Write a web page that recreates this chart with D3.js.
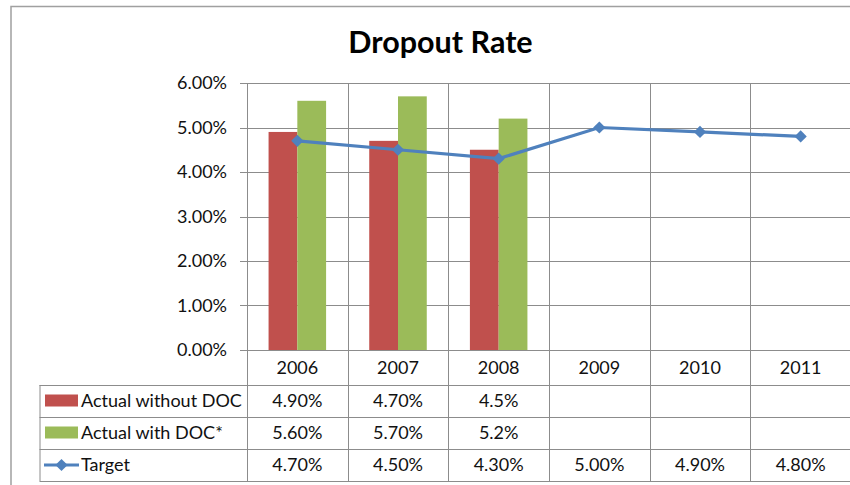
<!DOCTYPE html>
<html>
<head>
<meta charset="utf-8">
<script src="https://cdn.jsdelivr.net/npm/d3@7"></script>
<style>
  body { margin: 0; background: #fff; }
  svg { display: block; font-family: Lato, "Open Sans", sans-serif; }
</style>
</head>
<body>
<svg id="chart" width="850" height="485"></svg>
<script>
// chart values, as shown in the data table
const years = ['2006', '2007', '2008', '2009', '2010', '2011'];
const withoutDoc = ['4.90%', '4.70%', '4.5%'];
const withDoc = ['5.60%', '5.70%', '5.2%'];
const target = ['4.70%', '4.50%', '4.30%', '5.00%', '4.90%', '4.80%'];
const yTicks = [0, 0.01, 0.02, 0.03, 0.04, 0.05, 0.06];

const series = [
    { name: 'Actual without DOC', values: withoutDoc, color: '#C0504D', type: 'bar' },
    { name: 'Actual with DOC*', values: withDoc, color: '#9BBB59', type: 'bar' },
    { name: 'Target', values: target, color: '#4F81BD', type: 'line' }
];

const pct = s => parseFloat(s) / 100;

const svg = d3.select('#chart');
const gridColor = '#8c8c8c';
const fontSize = 18;

// plot area
const plotLeft = 247, plotRight = 851, plotTop = 83, plotBottom = 350;
const tableLeft = 39.5, rowH = 32, headerH = 35;

const x = d3.scaleBand().domain(years).range([plotLeft, plotRight]);
const y = d3.scaleLinear().domain([0, 0.06]).range([plotBottom, plotTop]);

const bw = x.bandwidth() / 3.5; // excel gap width 150%
const barSeries = series.filter(s => s.type === 'bar');
const x1 = d3.scaleBand().domain(barSeries.map(s => s.name)).range([0, bw * 2]);

// outer chart border
svg.append('path')
    .attr('d', `M11,490 V6.5 H860`)
    .attr('fill', 'none')
    .attr('stroke', '#a0a0a0')
    .attr('stroke-width', 1.5);

// title
svg.append('text')
    .attr('x', 440.5)
    .attr('y', 53)
    .attr('text-anchor', 'middle')
    .attr('font-weight', 'bold')
    .attr('font-size', 30.5)
    .text('Dropout Rate');

// horizontal gridlines + ticks
svg.append('g').selectAll('line')
    .data(yTicks)
    .join('line')
    .attr('x1', plotLeft - 7)
    .attr('x2', plotRight)
    .attr('y1', d => Math.round(y(d)) + 0.5)
    .attr('y2', d => Math.round(y(d)) + 0.5)
    .attr('stroke', gridColor);

svg.append('g').selectAll('text')
    .data(yTicks)
    .join('text')
    .attr('x', 227)
    .attr('y', d => y(d))
    .attr('dy', '0.35em')
    .attr('text-anchor', 'end')
    .attr('font-size', fontSize)
    .attr('fill', '#111')
    .text(d => d3.format('.2%')(d));

// vertical category lines running through the table
const tableBottom = plotBottom + headerH + rowH * 3;
svg.append('g').selectAll('line')
    .data(years.map(c => x(c)).concat([plotRight]))
    .join('line')
    .attr('x1', d => Math.round(d) + 0.5)
    .attr('x2', d => Math.round(d) + 0.5)
    .attr('y1', plotTop)
    .attr('y2', tableBottom)
    .attr('stroke', gridColor);

// bars
barSeries.forEach(s => {
    svg.append('g').selectAll('rect')
        .data(s.values.map((v, i) => ({ year: years[i], v: pct(v) })))
        .join('rect')
        .attr('x', d => x(d.year) + bw * 0.75 + x1(s.name))
        .attr('y', d => y(d.v))
        .attr('width', x1.bandwidth())
        .attr('height', d => y(0) - y(d.v))
        .attr('fill', s.color);
});

// target line
const lineS = series.find(s => s.type === 'line');
const pts = lineS.values.map((v, i) => ({ year: years[i], v: pct(v) }));
const cx = d => x(d.year) + x.bandwidth() / 2;

svg.append('path')
    .datum(pts)
    .attr('d', d3.line().x(cx).y(d => y(d.v)))
    .attr('fill', 'none')
    .attr('stroke', lineS.color)
    .attr('stroke-width', 3.2);

const diamond = d3.symbol().type(d3.symbolDiamond2).size(95);
svg.append('g').selectAll('path')
    .data(pts)
    .join('path')
    .attr('transform', d => `translate(${cx(d)},${y(d.v)})`)
    .attr('d', diamond)
    .attr('fill', lineS.color);

// data table: year header row
svg.append('g').selectAll('text')
    .data(years)
    .join('text')
    .attr('x', d => x(d) + x.bandwidth() / 2)
    .attr('y', plotBottom + 18)
    .attr('dy', '0.35em')
    .attr('text-anchor', 'middle')
    .attr('font-size', fontSize)
    .attr('fill', '#111')
    .text(d => d);

// table horizontal lines
const rowLines = d3.range(4).map(i => plotBottom + headerH + i * rowH);
svg.append('g').selectAll('line')
    .data(rowLines)
    .join('line')
    .attr('x1', tableLeft)
    .attr('x2', plotRight)
    .attr('y1', d => Math.round(d) + 0.5)
    .attr('y2', d => Math.round(d) + 0.5)
    .attr('stroke', gridColor);

svg.append('line')
    .attr('x1', tableLeft + 0.5).attr('x2', tableLeft + 0.5)
    .attr('y1', rowLines[0]).attr('y2', tableBottom)
    .attr('stroke', gridColor);

// table rows: legend key, name and values
series.forEach((s, r) => {
    const cy = plotBottom + headerH + r * rowH + rowH / 2;
    const g = svg.append('g');

    if (s.type === 'bar') {
        g.append('rect')
            .attr('x', 45).attr('y', cy - 6.5)
            .attr('width', 33).attr('height', 12)
            .attr('fill', s.color);
    } else {
        g.append('line')
            .attr('x1', 44).attr('x2', 79)
            .attr('y1', cy).attr('y2', cy)
            .attr('stroke', s.color).attr('stroke-width', 3.2);
        g.append('path')
            .attr('transform', `translate(61.5,${cy})`)
            .attr('d', diamond)
            .attr('fill', s.color);
    }

    g.append('text')
        .attr('x', 81)
        .attr('y', cy)
        .attr('dy', '0.35em')
        .attr('font-size', fontSize)
        .attr('fill', '#111')
        .text(s.name);

    g.selectAll('text.val')
        .data(s.values)
        .join('text')
        .attr('class', 'val')
        .attr('x', (d, i) => x(years[i]) + x.bandwidth() / 2)
        .attr('y', cy)
        .attr('dy', '0.35em')
        .attr('text-anchor', 'middle')
        .attr('font-size', fontSize)
        .attr('fill', '#111')
        .text(d => d);
});
</script>
</body>
</html>
